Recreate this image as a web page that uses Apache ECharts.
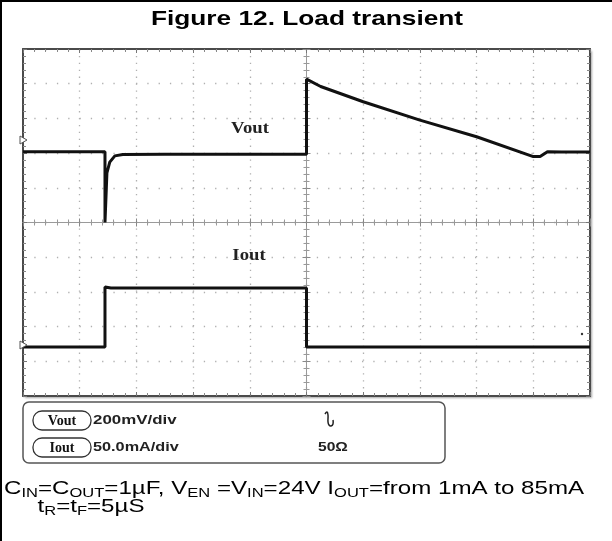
<!DOCTYPE html>
<html><head><meta charset="utf-8">
<script src="https://cdn.jsdelivr.net/npm/echarts@6/dist/echarts.min.js"></script>
<style>html,body{margin:0;padding:0;background:#fff}#c{width:612px;height:541px}</style>
</head><body><div id="c"></div>
<script>
// Horizontal position in scope divisions (-5..5), vertical in divisions (-5..5)
const voutX = [-5, -3.554, -3.554, -3.53, -3.52, -3.47, -3.38, -3.24, -2.5, 0, 0, 0.25, 1.0, 2.0, 3.0, 4.0, 4.12, 4.25, 4.5, 5];
const voutY = [2.04, 2.04, 0.0, 1.0, 1.43, 1.74, 1.92, 1.96, 1.97, 1.97, 4.13, 3.92, 3.48, 2.95, 2.47, 1.9, 1.9, 2.04, 2.03, 2.03];
const ioutX = [-5, -3.554, -3.554, -3.45, 0, 0, 5];
const ioutY = [-3.59, -3.59, -1.86, -1.89, -1.89, -3.59, -3.59];
const divMin = -5, divMax = 5;
const titleText = 'Figure 12. Load transient';
const voutScale = '200mV/div';
const ioutScale = '50.0mA/div';

const pair = (xs, ys) => xs.map((x, i) => [x, ys[i]]);
const chart = echarts.init(document.getElementById('c'), null, {renderer: 'canvas'});
const gridColor = '#4a4a4a';
const dotColor = '#b0b0b0';
function borderAxis(pos, dim, split) {
  return {
    type: 'value', position: pos, min: divMin, max: divMax, interval: 1,
    axisLine: {show: true, onZero: false, lineStyle: {color: gridColor, width: 2}},
    axisTick: {show: true, inside: true, length: 4, lineStyle: {color: '#777', width: 1}},
    minorTick: {show: true, splitNumber: 5, length: 3, lineStyle: {color: '#888', width: 1}},
    axisLabel: {show: false},
    splitLine: {show: split, lineStyle: {color: dotColor, width: 1.3, type: dim === 'x' ? [1.3, 5.6] : [1.3, 10]}},
    minorSplitLine: {show: false}
  };
}
function centerAxis(pos) {
  return {
    type: 'value', position: pos, min: divMin, max: divMax, interval: 1,
    axisLine: {show: true, onZero: true, onZeroAxisIndex: 0, lineStyle: {color: '#9a9a9a', width: 1}},
    axisTick: {show: true, inside: true, length: 4, lineStyle: {color: '#888', width: 1}},
    minorTick: {show: true, splitNumber: 5, length: 3, lineStyle: {color: '#999', width: 1}},
    axisLabel: {show: false}, splitLine: {show: false}
  };
}
const option = {
  backgroundColor: '#fff',
  animation: false,
  grid: {left: 23, top: 49, width: 567, height: 347, show: true, backgroundColor: '#fff', borderWidth: 0,
    shadowColor: 'rgba(0,0,0,0.35)', shadowBlur: 2, shadowOffsetX: 2, shadowOffsetY: 2},
  xAxis: [borderAxis('bottom', 'x', true), borderAxis('top', 'x', false), centerAxis('bottom'), centerAxis('top')],
  yAxis: [borderAxis('left', 'y', true), borderAxis('right', 'y', false), centerAxis('left'), centerAxis('right')],
  series: [
    {name: 'Vout', type: 'line', xAxisIndex: 0, yAxisIndex: 0, data: pair(voutX, voutY), showSymbol: false,
      lineStyle: {color: '#111', width: 3}, z: 5},
    {name: 'Iout', type: 'line', xAxisIndex: 0, yAxisIndex: 0, data: pair(ioutX, ioutY), showSymbol: false,
      lineStyle: {color: '#111', width: 3}, z: 5}
  ],
  graphic: [
    // outer figure frame
    {type: 'line', shape: {x1: 1, y1: 0, x2: 1, y2: 541}, style: {stroke: '#000', lineWidth: 2}},
    {type: 'line', shape: {x1: 0, y1: 1, x2: 612, y2: 1}, style: {stroke: '#000', lineWidth: 2}},
    // title
    {type: 'text', x: 307, y: 19, scaleX: 1.25, style: {text: titleText, fontFamily: 'Liberation Sans', fontWeight: 'bold', fontSize: 21, fill: '#000', align: 'center', verticalAlign: 'middle'}},
    // trace labels
    {type: 'text', x: 250, y: 129, scaleX: 1.1, style: {text: 'Vout', fontFamily: 'Liberation Serif', fontWeight: 'bold', fontSize: 17, fill: '#222', align: 'center', verticalAlign: 'middle'}, z: 10},
    {type: 'text', x: 249, y: 256, scaleX: 1.1, style: {text: 'Iout', fontFamily: 'Liberation Serif', fontWeight: 'bold', fontSize: 17, fill: '#222', align: 'center', verticalAlign: 'middle'}, z: 10},
    // ground markers
    {type: 'polygon', shape: {points: [[20, 136], [27, 140], [20, 144]]}, style: {fill: '#fff', stroke: '#555', lineWidth: 1}, z: 10},
    {type: 'polygon', shape: {points: [[20, 341], [27, 345], [20, 349]]}, style: {fill: '#fff', stroke: '#555', lineWidth: 1}, z: 10},
    {type: 'circle', shape: {cx: 582, cy: 334, r: 1.2}, style: {fill: '#333'}, z: 10},
    // settings box
    {type: 'rect', shape: {x: 23, y: 402, width: 422, height: 61, r: 6}, style: {fill: '#fff', stroke: '#555', lineWidth: 1.5}},
    {type: 'rect', shape: {x: 33, y: 411, width: 58, height: 19, r: 9}, style: {fill: '#fff', stroke: '#333', lineWidth: 1.3}},
    {type: 'text', x: 62, y: 421, style: {text: 'Vout', fontFamily: 'Liberation Serif', fontWeight: 'bold', fontSize: 14, fill: '#111', align: 'center', verticalAlign: 'middle'}},
    {type: 'text', x: 93, y: 420, scaleX: 1.3, style: {text: voutScale, fontFamily: 'Liberation Sans', fontWeight: 'bold', fontSize: 13, fill: '#222', verticalAlign: 'middle'}},
    {type: 'rect', shape: {x: 33, y: 438, width: 58, height: 19, r: 9}, style: {fill: '#fff', stroke: '#333', lineWidth: 1.3}},
    {type: 'text', x: 62, y: 448, style: {text: 'Iout', fontFamily: 'Liberation Serif', fontWeight: 'bold', fontSize: 14, fill: '#111', align: 'center', verticalAlign: 'middle'}},
    {type: 'text', x: 93, y: 447, scaleX: 1.25, style: {text: ioutScale, fontFamily: 'Liberation Sans', fontWeight: 'bold', fontSize: 13, fill: '#222', verticalAlign: 'middle'}},
    // coupling glyph
    {type: 'polyline', shape: {points: [[325, 414], [327, 412], [328, 415], [328, 422], [329, 425], [331, 426], [333, 424], [333, 420]], smooth: 0.4}, style: {fill: null, stroke: '#222', lineWidth: 1.5}},
    {type: 'text', x: 318, y: 447, scaleX: 1.2, style: {text: '50Ω', fontFamily: 'Liberation Sans', fontWeight: 'bold', fontSize: 13, fill: '#222', verticalAlign: 'middle'}},
    // caption
    {type: 'text', x: 4, y: 480, scaleX: 1.27, style: {
      text: 'C{s|IN}=C{s|OUT}=1µF, V{s|EN} =V{s|IN}=24V I{s|OUT}=from 1mA to 85mA\n     t{s|R}=t{s|F}=5µS',
      fontFamily: 'Liberation Sans', fontSize: 19, fill: '#000', lineHeight: 18,
      rich: {s: {fontFamily: 'Liberation Sans', fontSize: 13, fill: '#000', padding: [9, 0, 0, 0], lineHeight: 18}}
    }}
  ]
};
chart.setOption(option);
</script></body></html>
